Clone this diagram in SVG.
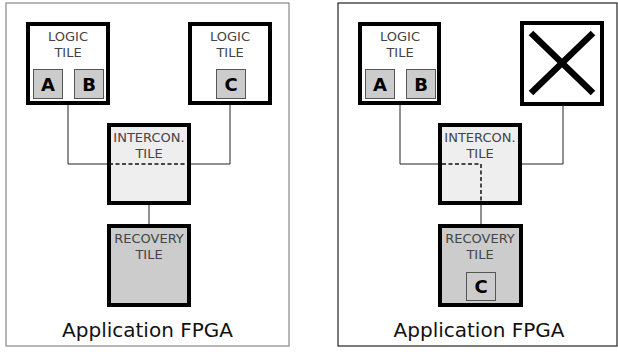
<svg xmlns="http://www.w3.org/2000/svg" width="618" height="352" viewBox="0 0 618 352">
<style>
.frame{fill:#fff;stroke-width:1.2}
.tile{stroke:#000;stroke-width:4}
.logic{fill:#fff}
.ic{fill:#eeeeee}
.rec{fill:#cccccc}
.cell{fill:#cccccc;stroke:#555;stroke-width:1}
.lbl{font-family:"DejaVu Sans",sans-serif;font-size:13px;fill:#444;text-anchor:middle}
.cl{font-family:"DejaVu Sans",sans-serif;font-size:18px;font-weight:bold;fill:#000;text-anchor:middle}
.title{font-family:"DejaVu Sans",sans-serif;font-size:20px;fill:#111;text-anchor:middle}
.wire{fill:none;stroke:#222;stroke-width:1}
.dash{fill:none;stroke:#111;stroke-width:1.5;stroke-dasharray:4 2.5}
</style>
<rect class="frame" x="6" y="3" width="283" height="343" stroke="#888"/>
<rect class="frame" x="338" y="3" width="279" height="343" stroke="#222"/>
<g id="logicA1">
<rect class="tile logic" x="28" y="24" width="80" height="79"/>
<text class="lbl" x="68" y="41">LOGIC</text>
<text class="lbl" x="68" y="57">TILE</text>
<rect class="cell" x="33.5" y="69.5" width="29" height="29"/>
<text class="cl" x="48" y="90.5">A</text>
<rect class="cell" x="74.5" y="69.5" width="29" height="29"/>
<text class="cl" x="89" y="90.5">B</text>
</g>
<g id="logicC1">
<rect class="tile logic" x="190" y="24" width="80" height="79"/>
<text class="lbl" x="230" y="41">LOGIC</text>
<text class="lbl" x="230" y="57">TILE</text>
<rect class="cell" x="216.5" y="69.5" width="29" height="29"/>
<text class="cl" x="231" y="90.5">C</text>
</g>
<g id="intercon1">
<rect class="tile ic" x="109" y="125" width="80" height="78"/>
<text class="lbl" x="149" y="142">INTERCON.</text>
<text class="lbl" x="149" y="158">TILE</text>
</g>
<g id="recovery1">
<rect class="tile rec" x="109" y="226" width="80" height="79"/>
<text class="lbl" x="149" y="243">RECOVERY</text>
<text class="lbl" x="149" y="259">TILE</text>
</g>
<text class="title" x="147.5" y="337">Application FPGA</text>
<g id="logicA2">
<rect class="tile logic" x="360" y="24" width="79" height="79"/>
<text class="lbl" x="400" y="41">LOGIC</text>
<text class="lbl" x="400" y="57">TILE</text>
<rect class="cell" x="365.5" y="69.5" width="29" height="29"/>
<text class="cl" x="380" y="90.5">A</text>
<rect class="cell" x="406.5" y="69.5" width="29" height="29"/>
<text class="cl" x="421" y="90.5">B</text>
</g>
<g id="failed2">
<rect class="tile logic" x="522" y="23" width="80" height="81"/>
<path d="M531,33 L593,93 M593,33 L531,93" stroke="#000" stroke-width="6.5" fill="none"/>
</g>
<g id="intercon2">
<rect class="tile ic" x="440" y="125" width="80" height="78"/>
<text class="lbl" x="480" y="142">INTERCON.</text>
<text class="lbl" x="480" y="158">TILE</text>
</g>
<g id="recovery2">
<rect class="tile rec" x="440" y="226" width="81" height="79"/>
<text class="lbl" x="480" y="243">RECOVERY</text>
<text class="lbl" x="480" y="259">TILE</text>
<rect class="cell" x="466.5" y="272.5" width="29" height="28"/>
<text class="cl" x="481" y="293">C</text>
</g>
<text class="title" x="479" y="337">Application FPGA</text>
<g id="connectors">
<polyline class="wire" points="68,105 68,164 107,164"/>
<polyline class="wire" points="230,105 230,164 191,164"/>
<line class="dash" x1="109" y1="164" x2="189" y2="164"/>
<line class="wire" x1="149" y1="205" x2="149" y2="224"/>
<polyline class="wire" points="400,105 400,164 438,164"/>
<polyline class="wire" points="563,105 563,164 522,164"/>
<polyline class="dash" points="442,164 481,164 481,203"/>
<line class="wire" x1="481" y1="205" x2="481" y2="224"/>
</g>
</svg>
